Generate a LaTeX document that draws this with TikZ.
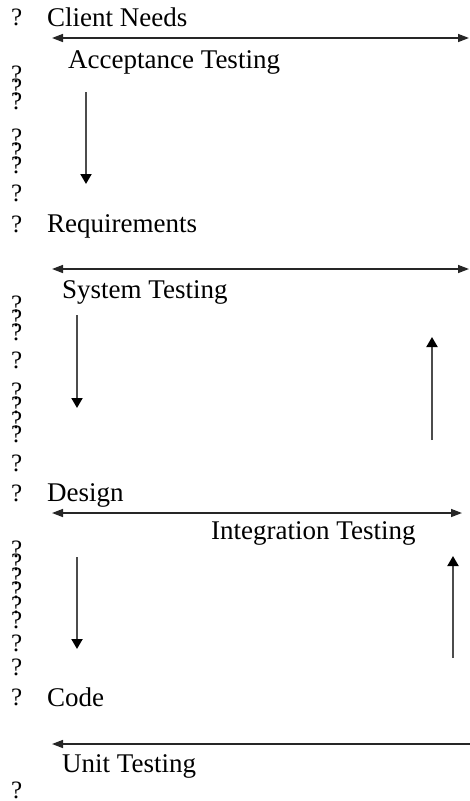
\documentclass[tikz,border=0pt]{standalone}
\usepackage{fontspec}
\setmainfont{Liberation Serif}
\usetikzlibrary{arrows.meta}

\begin{document}
\begin{tikzpicture}[x=1pt, y=-1pt,
  stage/.style={anchor=base west, inner sep=0pt, font=\fontsize{27}{30}\selectfont},
  qmark/.style={anchor=base west, inner sep=0pt, font=\fontsize{25}{28}\selectfont},
  span/.style={{Triangle[width=8pt,length=11pt]}-{Triangle[width=8pt,length=11pt]},
               line width=1.5pt, draw=black!85},
  back/.style={-{Triangle[width=8pt,length=11pt]}, line width=1.5pt, draw=black!85},
  flow/.style={-{Triangle[width=11pt,length=10pt,color=black]}, line width=2pt, draw=black!70}
]
\useasboundingbox (0,0) rectangle (470,801);

% left column of bullets
\foreach \y in {25,82,95,109,145,159,173,201,232,312,326,340,368,399,413,428,442,471,
                501,557,570,584,598,613,628,651,675,705,798}
  \node[qmark] (q\y) at (11,\y) {?};

% phases and test levels
\node[stage] (client) at (47,26)  {Client Needs};
\node[stage] (accept) at (68,68)  {Acceptance Testing};
\node[stage] (req)    at (47,232) {Requirements};
\node[stage] (system) at (62,298) {System Testing};
\node[stage] (design) at (47,501) {Design};
\node[stage] (integ)  at (211,539) {Integration Testing};
\node[stage] (code)   at (47,706) {Code};
\node[stage] (unit)   at (62,772) {Unit Testing};

% arrow ends
\coordinate (acc-l) at (52,38);   \coordinate (acc-r) at (469,38);
\coordinate (sys-l) at (52,269);  \coordinate (sys-r) at (469,269);
\coordinate (int-l) at (52,513);  \coordinate (int-r) at (462,513);
\coordinate (uni-l) at (52,744);  \coordinate (uni-r) at (472,744);
\coordinate (d1-s) at (86,92);    \coordinate (d1-e) at (86,184);
\coordinate (d2-s) at (77,315);   \coordinate (d2-e) at (77,408);
\coordinate (d3-s) at (77,557);   \coordinate (d3-e) at (77,649);
\coordinate (u1-s) at (432,440);  \coordinate (u1-e) at (432,337);
\coordinate (u2-s) at (453,658);  \coordinate (u2-e) at (453,556);

\draw[span] (acc-l) -- (acc-r);
\draw[span] (sys-l) -- (sys-r);
\draw[span] (int-l) -- (int-r);
\draw[back] (uni-r) -- (uni-l);

\draw[flow] (d1-s) -- (d1-e);
\draw[flow] (d2-s) -- (d2-e);
\draw[flow] (d3-s) -- (d3-e);
\draw[flow] (u1-s) -- (u1-e);
\draw[flow] (u2-s) -- (u2-e);
\end{tikzpicture}
\end{document}
